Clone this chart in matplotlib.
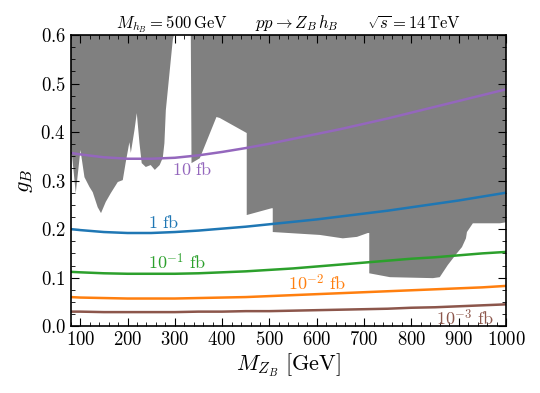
import matplotlib
matplotlib.use("Agg")
import matplotlib.pyplot as plt
from matplotlib.ticker import MultipleLocator

plt.rcParams['font.family'] = 'serif'
plt.rcParams['font.serif'] = ['cmr10', 'DejaVu Serif']
plt.rcParams['mathtext.fontset'] = 'cm'
plt.rcParams['axes.formatter.use_mathtext'] = True

# masses (GeV) where the cross-section contours are sampled
m_zb = [80, 100, 150, 200, 250, 300, 350, 400, 450, 500, 550,
        600, 650, 700, 750, 800, 850, 900, 950, 1000]

# g_B reaching a given cross section
g_10fb = [0.357, 0.354, 0.348, 0.345, 0.345, 0.347, 0.352, 0.359, 0.367, 0.376,
          0.386, 0.396, 0.406, 0.417, 0.428, 0.440, 0.452, 0.464, 0.476, 0.488]
g_1fb = [0.200, 0.198, 0.194, 0.192, 0.192, 0.194, 0.197, 0.201, 0.205, 0.210,
         0.215, 0.220, 0.226, 0.232, 0.238, 0.245, 0.252, 0.259, 0.267, 0.275]
g_01fb = [0.112, 0.111, 0.109, 0.108, 0.108, 0.108, 0.109, 0.111, 0.113, 0.116,
          0.119, 0.123, 0.127, 0.131, 0.135, 0.139, 0.142, 0.146, 0.150, 0.153]
g_001fb = [0.060, 0.059, 0.058, 0.057, 0.057, 0.057, 0.058, 0.059, 0.060, 0.062,
           0.064, 0.066, 0.068, 0.070, 0.072, 0.074, 0.076, 0.078, 0.080, 0.083]
g_0001fb = [0.030, 0.030, 0.029, 0.029, 0.029, 0.029, 0.030, 0.030, 0.031, 0.031,
            0.032, 0.033, 0.034, 0.035, 0.036, 0.038, 0.039, 0.041, 0.043, 0.045]

# excluded region (grey), two pieces
excl1_x = [80, 80.6, 90.6, 100.5, 109, 119.5, 126.5, 137, 144, 154, 164.6, 179.4,
           190, 196.3, 204, 207, 214.7, 219.6, 225.3, 230, 238.6, 249, 257.7, 268,
           274.6, 278, 281, 288.8, 295.7, 298]
excl1_y = [0.6, 0.373, 0.274, 0.363, 0.307, 0.287, 0.276, 0.245, 0.233, 0.256, 0.274,
           0.297, 0.301, 0.338, 0.379, 0.357, 0.404, 0.439, 0.377, 0.336, 0.328, 0.332,
           0.322, 0.332, 0.347, 0.377, 0.445, 0.522, 0.590, 0.6]
excl2_x = [333.8, 335.3, 352.8, 388, 395, 452, 452, 504.5, 507, 507, 606.6, 655, 685,
           708, 711, 711, 754.7, 845.6, 860, 877, 896, 907, 915.4, 917.5, 930, 987,
           1000, 1000]
excl2_y = [0.6, 0.336, 0.346, 0.431, 0.429, 0.398, 0.229, 0.243, 0.243, 0.194, 0.188,
           0.181, 0.184, 0.192, 0.192, 0.109, 0.101, 0.099, 0.101, 0.126, 0.150, 0.163,
           0.181, 0.194, 0.212, 0.212, 0.214, 0.6]

fig = plt.figure(figsize=(5.4, 3.93), dpi=100)
ax = fig.add_axes([0.131, 0.170, 0.806, 0.741])

ax.fill(excl1_x, excl1_y, color='grey', lw=0, zorder=1)
ax.fill(excl2_x, excl2_y, color='grey', lw=0, zorder=1)

lw = 1.8
ax.plot(m_zb, g_10fb, color='tab:purple', lw=lw, zorder=2)
ax.plot(m_zb, g_1fb, color='tab:blue', lw=lw, zorder=2)
ax.plot(m_zb, g_01fb, color='tab:green', lw=lw, zorder=2)
ax.plot(m_zb, g_001fb, color='tab:orange', lw=lw, zorder=2)
ax.plot(m_zb, g_0001fb, color='tab:brown', lw=lw, zorder=2)

fs = 13
ax.text(336, 0.322, r'$10\ \mathrm{fb}$', color='tab:purple', fontsize=fs, ha='center', va='center')
ax.text(277, 0.214, r'$1\ \mathrm{fb}$', color='tab:blue', fontsize=fs, ha='center', va='center')
ax.text(306, 0.132, r'$10^{-1}\ \mathrm{fb}$', color='tab:green', fontsize=fs, ha='center', va='center')
ax.text(602, 0.088, r'$10^{-2}\ \mathrm{fb}$', color='tab:orange', fontsize=fs, ha='center', va='center')
ax.text(913, 0.016, r'$10^{-3}\ \mathrm{fb}$', color='tab:brown', fontsize=fs, ha='center', va='center')

ax.set_xlim(80, 1000)
ax.set_ylim(0, 0.6)
ax.xaxis.set_major_locator(MultipleLocator(100))
ax.xaxis.set_minor_locator(MultipleLocator(20))
ax.yaxis.set_major_locator(MultipleLocator(0.1))
ax.yaxis.set_minor_locator(MultipleLocator(0.025))
ax.tick_params(which='both', direction='in', top=True, right=True, labelsize=13.5)
ax.tick_params(which='major', length=6)
ax.tick_params(which='minor', length=3)
for s in ax.spines.values():
    s.set_linewidth(1.2)

ax.set_xlabel(r'$M_{Z_B}\ [\mathrm{GeV}]$', fontsize=16, labelpad=2)
ax.set_ylabel(r'$g_B$', fontsize=16, labelpad=4)
ax.set_title(r'$M_{h_B} = 500\,\mathrm{GeV}\qquad pp \to Z_B\,h_B\qquad \sqrt{s} = 14\,\mathrm{TeV}$',
             fontsize=12, pad=5)

fig.savefig('out.png', dpi=100)
